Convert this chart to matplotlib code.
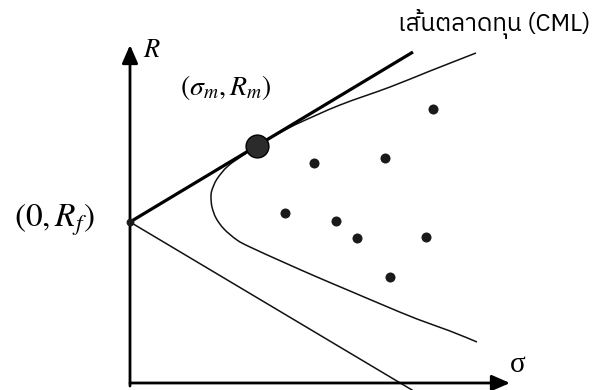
import matplotlib
matplotlib.use("Agg")
import matplotlib.pyplot as plt
import matplotlib.font_manager as fm
from matplotlib.ft2font import FT2Font
from matplotlib.path import Path
from matplotlib.patches import PathPatch

# ---- data (sigma = risk, R = return; arbitrary diagram units) ----
rf = 161
cml_sigma = [0, 283]
cml_R = [161, 331]
low_sigma = [0, 282]
low_R = [161, -7]
tangent_sigma = 127
tangent_R = 237
frontier_sigma = [346, 300, 260, 210, 170, 155, 140, 127, 115, 98, 87, 82, 81,
                  82, 86, 94, 107, 120, 153, 187, 220, 253, 287, 320, 347]
frontier_R = [330, 312, 296, 278, 260.5, 253, 244.5, 237, 229, 217, 204, 193, 186,
              176, 165, 154, 143, 136, 121, 106, 92, 78, 64, 52, 41]
asset_sigma = [303, 184, 255, 155, 206, 227, 296, 260]
asset_R = [274, 220, 225, 170, 162, 145, 146, 106]
cml_label = "เส้นตลาดทุน (CML)"

# ---- find a font with Thai glyphs ----
thai_font = None
cands = []
for f in fm.fontManager.ttflist:
    try:
        cmap = FT2Font(f.fname).get_charmap()
    except Exception:
        continue
    if 0x0E40 in cmap and 0x0E17 in cmap:
        cands.append(f.name)
if cands:
    sans = [c for c in cands if "Sans" in c]
    thai_font = (sans or cands)[0]
thai_family = [thai_font, "DejaVu Sans"] if thai_font else ["DejaVu Sans"]

plt.rcParams["mathtext.fontset"] = "stix"


def smooth_path(xs, ys):
    """Catmull-Rom curve through the given points, as cubic Bezier path."""
    pts = list(zip(xs, ys))
    n = len(pts)
    verts = [pts[0]]
    codes = [Path.MOVETO]
    for i in range(n - 1):
        p0 = pts[max(i - 1, 0)]
        p1 = pts[i]
        p2 = pts[i + 1]
        p3 = pts[min(i + 2, n - 1)]
        c1 = (p1[0] + (p2[0] - p0[0]) / 6.0, p1[1] + (p2[1] - p0[1]) / 6.0)
        c2 = (p2[0] - (p3[0] - p1[0]) / 6.0, p2[1] - (p3[1] - p1[1]) / 6.0)
        verts += [c1, c2, p2]
        codes += [Path.CURVE4] * 3
    return Path(verts, codes)


fig = plt.figure(figsize=(5.95, 3.9), dpi=100)
ax = fig.add_axes([0, 0, 1, 1])
ax.set_xlim(-130, 465)
ax.set_ylim(-7, 383)
ax.axis("off")

# axes with arrows
arrow_kw = dict(arrowstyle="-|>,head_length=0.55,head_width=0.24",
                lw=2.0, color="black", mutation_scale=20, shrinkA=0, shrinkB=0)
ax.annotate("", xy=(380, 0), xytext=(0, 0), arrowprops=arrow_kw)
ax.annotate("", xy=(0, 338), xytext=(0, -3), arrowprops=arrow_kw)

# frontier
ax.add_patch(PathPatch(smooth_path(frontier_sigma, frontier_R), fill=False,
                       edgecolor="#111111", lw=1.1, zorder=2))
# lower line
ax.plot(low_sigma, low_R, color="#111111", lw=1.1, zorder=2)
# CML
ax.plot(cml_sigma, cml_R, color="black", lw=2.3, solid_capstyle="butt", zorder=3)

# assets
ax.scatter(asset_sigma, asset_R, s=52, color="#1a1a1a", zorder=4, lw=0)
# tangent (market) portfolio
ax.scatter([tangent_sigma], [tangent_R], s=270, color="#2b2b2b",
           edgecolor="black", lw=1.0, zorder=5)
# risk-free point
ax.scatter([0], [rf], s=32, color="#1a1a1a", zorder=5, lw=0)

# labels
ax.text(13, 333, r"$R$", fontsize=19, ha="left", va="center")
ax.text(96, 295, r"$(\sigma_m, R_m)$", fontsize=20, ha="center", va="center")
ax.text(-76, 163, r"$(0, R_f)$", fontsize=24, ha="center", va="center")
ax.text(388, 18, "σ", fontsize=21, family="Liberation Serif",
        ha="center", va="center")
ax.text(268, 359, cml_label, fontsize=17.5, family=thai_family,
        ha="left", va="center")

fig.savefig("out.png", dpi=100)
